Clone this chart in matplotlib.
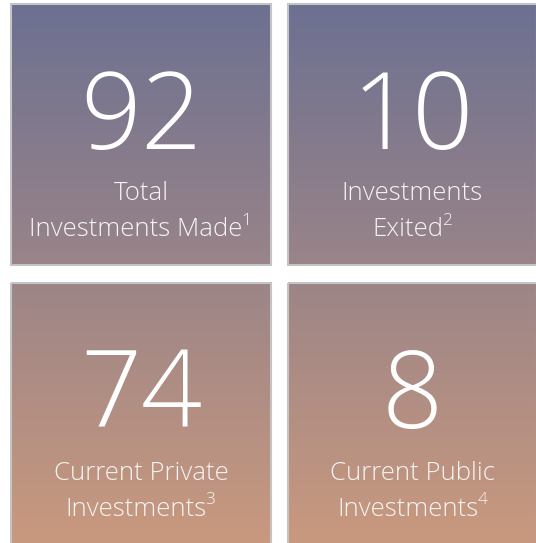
"""
Investment summary tiles: four KPI boxes on a vertical gradient
"""

import numpy as np
import matplotlib
matplotlib.use("Agg")
import matplotlib.pyplot as plt
from matplotlib.patches import Rectangle

# Tile values and captions (row-major: top-left, top-right, bottom-left, bottom-right)
counts = [92, 10, 74, 8]
caption_top = ["Total", "Investments", "Current Private", "Current Public"]
caption_bottom = ["Investments Made", "Exited", "Investments", "Investments"]
footnotes = ["1", "2", "3", "4"]

# Gradient colours (top of figure -> bottom of figure)
grad_top = np.array([108, 112, 146]) / 255
grad_bottom = np.array([201, 153, 126]) / 255

W, H = 536, 543
plt.rcParams['font.family'] = ['Open Sans', 'DejaVu Sans']

fig = plt.figure(figsize=(W / 100, H / 100), dpi=100)
ax = fig.add_axes([0, 0, 1, 1])
ax.set_xlim(0, W)
ax.set_ylim(H, 0)
ax.axis("off")

# Full-height gradient image, clipped to each tile
t = np.linspace(0, 1, 256)[:, None]
grad = (1 - t)[..., None] * grad_top + t[..., None] * grad_bottom
grad = np.repeat(grad, 2, axis=1)

# tile boxes in pixel coords: (x0, y0, x1, y1)
tiles = [(11, 4, 271, 265), (288, 4, 537, 265),
         (11, 283, 271, 545), (288, 283, 537, 545)]

num_style = dict(color="white", fontsize=77, fontweight="light", zorder=4)
cap_style = dict(color="#f4f4f4", fontsize=18.5, fontweight="light", zorder=4)
sup_style = dict(color="#f4f4f4", fontsize=12.5, fontweight="light", zorder=4)

fig.canvas.draw()
r = fig.canvas.get_renderer()

for i, (x0, y0, x1, y1) in enumerate(tiles):
    rect = Rectangle((x0, y0), x1 - x0, y1 - y0, facecolor="none",
                     edgecolor="#c4c4c4", linewidth=1.5, zorder=3)
    ax.add_patch(rect)
    im = ax.imshow(grad, extent=(0, W, H, 0), aspect="auto", zorder=1)
    im.set_clip_path(rect)

    cx = (x0 + x1) / 2
    ax.text(cx, y0 + 117, str(counts[i]), ha="center", va="center", **num_style)
    ax.text(cx, y0 + 190, caption_top[i], ha="center", va="center", **cap_style)

    # second line + footnote marker, centred together
    line2 = ax.text(0, y0 + 226, caption_bottom[i], ha="left", va="center", **cap_style)
    sup = ax.text(0, y0 + 217, footnotes[i], ha="left", va="center", **sup_style)
    w = line2.get_window_extent(r).width
    sw = sup.get_window_extent(r).width
    start = cx - (w + sw) / 2
    line2.set_x(start)
    sup.set_x(start + w - 1)

plt.savefig("out.png", dpi=100)
